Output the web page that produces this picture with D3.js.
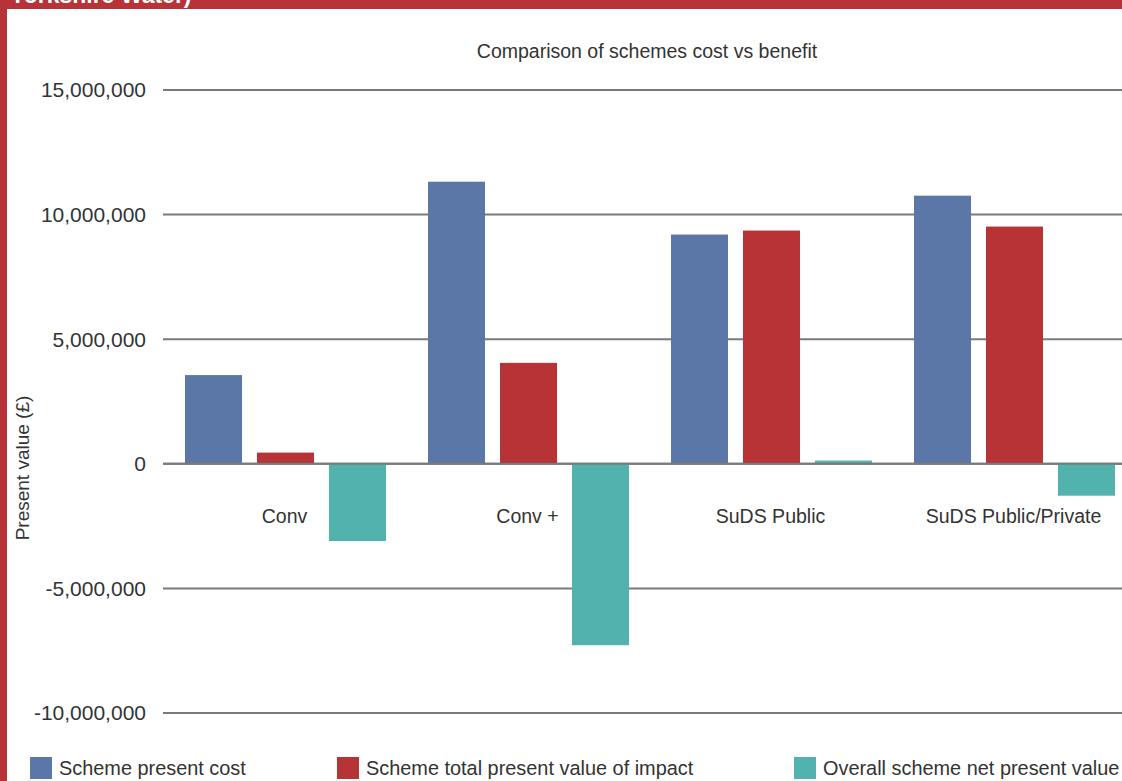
<!DOCTYPE html>
<html><head><meta charset="utf-8">
<script src="https://cdn.jsdelivr.net/npm/d3@7"></script>
<style>html,body{margin:0;padding:0;background:#fff;overflow:hidden}</style>
</head><body>
<svg id="c" width="1122" height="781"></svg>
<script>
const categories = ["Conv", "Conv +", "SuDS Public", "SuDS Public/Private"];
const seriesNames = ["Scheme present cost", "Scheme total present value of impact", "Overall scheme net present value"];
const presentCost = [3560000, 11320000, 9200000, 10760000];
const impactValue = [450000, 4050000, 9360000, 9520000];
const netValue = [-3100000, -7280000, 130000, -1280000];
const yTicks = [-10000000, -5000000, 0, 5000000, 10000000, 15000000];
const colors = ["#5a77a8", "#b83335", "#52b3ae"];

const seriesValues = [presentCost, impactValue, netValue];
const svg = d3.select("#c");
const font = "'Liberation Sans', Arial, sans-serif";

// frame
svg.append("rect").attr("x",0).attr("y",0).attr("width",1122).attr("height",9).attr("fill","#b83337");
svg.append("rect").attr("x",0).attr("y",0).attr("width",7).attr("height",781).attr("fill","#b83337");
svg.append("text").attr("x",10).attr("y",3).attr("font-family",font).attr("font-weight","bold")
  .attr("font-size",23).attr("fill","#fff").text("Yorkshire Water)");

const y = d3.scaleLinear().domain([-10000000, 15000000]).range([713, 90]);
const x0 = d3.scaleBand().domain(categories).range([163, 1135]).padding(0);
const x1 = d3.scaleBand().domain(d3.range(3)).range([22, 223]).paddingInner(0.208).paddingOuter(0);

// gridlines
const fmt = v => d3.format(",")(v).replace("\u2212", "-");
const g = svg.append("g");
g.selectAll("line.grid").data(yTicks).join("line").attr("class","grid")
  .attr("x1",163).attr("x2",1122).attr("y1",d=>y(d)).attr("y2",d=>y(d))
  .attr("stroke","#7a7a7a").attr("stroke-width",2);
g.selectAll("text.tick").data(yTicks).join("text").attr("class","tick")
  .attr("x",146).attr("y",d=>y(d)).attr("dy","0.35em").attr("text-anchor","end")
  .attr("font-family",font).attr("font-size",21).attr("fill","#333").text(d=>fmt(d));

// bars
const groups = svg.append("g").selectAll("g").data(categories).join("g")
  .attr("transform", d=>`translate(${x0(d)},0)`);
groups.selectAll("rect").data((d,i)=>seriesValues.map((s,k)=>({k, v:s[i]}))).join("rect")
  .attr("x", d=>x1(d.k)).attr("width", x1.bandwidth())
  .attr("y", d=>y(Math.max(0,d.v))).attr("height", d=>Math.abs(y(d.v)-y(0)))
  .attr("fill", d=>colors[d.k]);

// redraw zero line over bars
svg.append("line").attr("x1",163).attr("x2",1122).attr("y1",y(0)).attr("y2",y(0))
  .attr("stroke","#7a7a7a").attr("stroke-width",2);

// category labels
svg.append("g").selectAll("text").data(categories).join("text")
  .attr("x", d=>x0(d)+x0.bandwidth()/2).attr("y", 523).attr("text-anchor","middle")
  .attr("font-family",font).attr("font-size",19.5).attr("fill","#333").text(d=>d);

// title
svg.append("text").attr("x",647).attr("y",58).attr("text-anchor","middle")
  .attr("font-family",font).attr("font-size",19.5).attr("fill","#333").text("Comparison of schemes cost vs benefit");

// y label
svg.append("text").attr("transform","translate(29,468) rotate(-90)").attr("text-anchor","middle")
  .attr("font-family",font).attr("font-size",19).attr("fill","#333").text("Present value (£)");

// legend
const legX = [30, 337, 794];
const leg = svg.append("g").selectAll("g").data(seriesNames).join("g")
  .attr("transform",(d,i)=>`translate(${legX[i]},757)`);
leg.append("rect").attr("width",22).attr("height",22).attr("fill",(d,i)=>colors[i]);
leg.append("text").attr("x",29).attr("y",11).attr("dy","0.35em")
  .attr("font-family",font).attr("font-size",19.9).attr("fill","#333").text(d=>d);
</script>
</body></html>
